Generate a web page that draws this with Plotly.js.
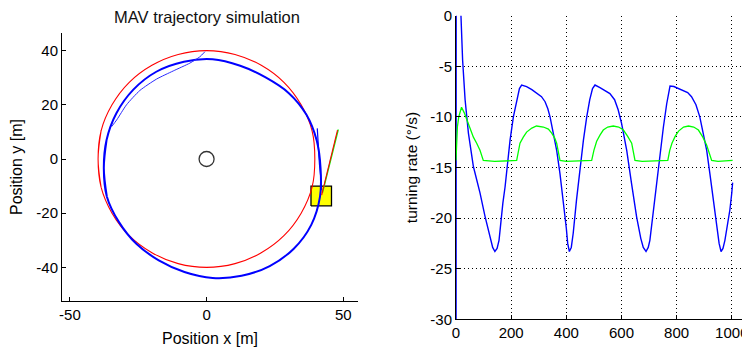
<!DOCTYPE html>
<html>
<head>
<meta charset="utf-8">
<script src="https://cdn.plot.ly/plotly-3.0.1.min.js"></script>
<style>html,body{margin:0;padding:0;overflow:hidden;background:#fff}#chart{width:742px;height:347px}</style>
</head>
<body>
<div id="chart"></div>
<script>
// ---- Left panel: trajectory (m) ----
var refPathX = [-38.6, -39.7, -38.6, -34.6, -28.3, -20, -10.4, 0, 10.4, 20, 28.3, 34.6, 38.6, 39.6, 38.6, 34.6, 28.3, 20, 10.4, 0, -10.4, -20, -28.3, -34.6, -38.6, -39.7, -38.6];
var refPathY = [10.4, 0, -10.4, -20, -28.3, -34.6, -38.6, -40, -38.6, -34.6, -28.3, -20, -10.4, 0, 10.4, 20, 28.3, 34.6, 38.6, 40, 38.6, 34.6, 28.3, 20, 10.4, 0, -10.4];

var mavLoopX = [-36.6, -37.6, -36.5, -32.1, -25.7, -17.5, -8.1, 2.2, 12.8, 23.1, 31.9, 38.3, 41.5, 41.7, 40.3, 36.5, 30.0, 21.6, 12.3, 2.2, -8.3, -18.4, -26.8, -33.0, -36.6, -37.6, -36.5];
var mavLoopY = [7.0, -3.4, -13.8, -23.2, -31.3, -37.4, -41.7, -43.9, -43.1, -39.5, -33.1, -24.3, -13.9, -3.4, 6.8, 16.4, 24.4, 30.1, 34.4, 36.8, 35.9, 32.2, 25.6, 16.9, 7.0, -3.4, -13.8];

var mavStartX = [-0.6, -2.5, -6.1, -12.2, -18.3, -24.4, -29.3, -32.9, -34.8];
var mavStartY = [39.6, 37.7, 35.4, 32.5, 29.5, 25.3, 20, 14.4, 11.9];

var mavEndX = [40.5, 40.8, 41.3, 41.8, 42.1];
var mavEndY = [11.3, 4, -2, -7, -11.4];

var mavBoxX = [38.2, 45.7, 45.7, 38.2, 38.2];
var mavBoxY = [-17.3, -17.3, -10, -10, -17.3];

var headingX = [42.1, 47.9];
var headingY = [-13.3, 10.7];
var windX = [42.4, 48.2];
var windY = [-12.5, 10.9];

var centerX = [0];
var centerY = [0];

var leftXTicks = [-50, 0, 50];
var leftXLabels = ['-50', '0', '50'];
var leftYTicks = [-40, -20, 0, 20, 40];
var leftYLabels = ['-40', '-20', '0', '20', '40'];

// ---- Right panel: turning rate (deg/s) vs time ----
var rateTime = [0, 1, 18, 24, 33, 45, 63, 87, 105, 123, 133, 141, 149, 156, 162, 170, 178, 187, 196, 208, 220, 230, 238, 256, 275, 292, 310, 323, 333, 341, 352, 365, 377, 389, 400, 405, 411, 418, 425, 437, 450, 462, 474, 485, 495, 504, 522, 540, 558, 575, 588, 600, 610, 619, 636, 655, 670, 679, 689, 697, 703, 715, 727, 740, 752, 764, 776, 790, 818, 840, 854, 870, 884, 897, 909, 921, 933, 946, 954, 961, 968, 975, 985, 993, 1000, 1003];
var rateActual = [-60, 40, 0, -4.4, -8.3, -11.6, -14.9, -17.5, -19.8, -21.8, -22.9, -23.3, -23, -22.2, -20.5, -18.5, -16.9, -14.5, -12.3, -10, -8.3, -7.2, -6.85, -7.0, -7.3, -7.6, -8.0, -8.5, -9.2, -10, -11.5, -13.3, -15.6, -18.2, -21, -22.5, -23.3, -22.9, -21.5, -18.2, -14.9, -12.3, -10, -8.3, -7.2, -6.85, -7.1, -7.4, -7.7, -8.3, -9.3, -10.6, -12, -13.3, -16.5, -19.9, -22, -22.9, -23.3, -22.9, -22.2, -19.5, -16.2, -13.5, -11, -8.7, -6.95, -7.0, -7.3, -7.6, -8, -8.8, -10, -11.6, -13.3, -15.7, -18.2, -20.8, -22.5, -23.3, -23, -22.2, -20.5, -19.2, -17.5, -16.5];

var cmdTime = [0, 2, 5, 10, 20, 30, 40, 50, 63, 75, 87, 99, 140, 220, 226, 232, 244, 256, 275, 292, 317, 335, 347, 358, 365, 377, 400, 492, 500, 510, 522, 534, 550, 570, 590, 607, 622, 637, 649, 675, 768, 775, 783, 795, 807, 825, 843, 862, 879, 895, 909, 918, 927, 950, 1003];
var rateCommand = [-14.3, -13, -11, -10, -9.05, -9.6, -10.3, -11, -12, -12.6, -13.3, -14.3, -14.4, -14.3, -13.5, -12.6, -12, -11.5, -11.1, -10.9, -11, -11.2, -11.6, -12.1, -12.6, -14.3, -14.4, -14.3, -13.3, -12.4, -11.8, -11.3, -11, -10.9, -11, -11.3, -11.9, -12.6, -14.3, -14.4, -14.3, -13.3, -12.6, -11.9, -11.4, -11, -10.9, -11, -11.3, -12, -12.8, -13.6, -14.3, -14.4, -14.3];

var rightXTicks = [0, 200, 400, 600, 800, 1000];
var rightXLabels = ['0', '200', '400', '600', '800', '1000'];
var rightYTicks = [-30, -25, -20, -15, -10, -5, 0];
var rightYLabels = ['-30', '-25', '-20', '-15', '-10', '-5', '0'];

var W = 742, H = 347;
function dx(a, b) { return [a / W, b / W]; }
function dy(top, bottom) { return [1 - bottom / H, 1 - top / H]; }

var traces = [
  {x: mavBoxX, y: mavBoxY, xaxis: 'x', yaxis: 'y', mode: 'lines', fill: 'toself', fillcolor: '#ffff00', line: {color: '#000', width: 1.3}, hoverinfo: 'skip'},
  {x: refPathX, y: refPathY, xaxis: 'x', yaxis: 'y', mode: 'lines', line: {color: '#ff0000', width: 1.1, shape: 'spline', smoothing: 1}},
  {x: mavLoopX, y: mavLoopY, xaxis: 'x', yaxis: 'y', mode: 'lines', line: {color: '#0000ff', width: 2, shape: 'spline', smoothing: 1}},
  {x: mavStartX, y: mavStartY, xaxis: 'x', yaxis: 'y', mode: 'lines', line: {color: '#2a2aff', width: 1, shape: 'spline', smoothing: 0.6}},
  {x: mavEndX, y: mavEndY, xaxis: 'x', yaxis: 'y', mode: 'lines', line: {color: '#0000ff', width: 1.2}},
  {x: windX, y: windY, xaxis: 'x', yaxis: 'y', mode: 'lines', line: {color: '#00ff00', width: 1.3}},
  {x: headingX, y: headingY, xaxis: 'x', yaxis: 'y', mode: 'lines', line: {color: '#ff0000', width: 1.1}},
  {x: centerX, y: centerY, xaxis: 'x', yaxis: 'y', mode: 'markers', marker: {symbol: 'circle-open', size: 15, color: '#333', line: {color: '#333', width: 1.3}}},
  {x: rateTime, y: rateActual, xaxis: 'x2', yaxis: 'y2', mode: 'lines', line: {color: '#0000ff', width: 1.4}},
  {x: cmdTime, y: rateCommand, xaxis: 'x2', yaxis: 'y2', mode: 'lines', line: {color: '#00ff00', width: 1.3}}
];

var fontFam = 'Liberation Sans, Arial, Helvetica, sans-serif';
var baseAxis = {showline: true, linecolor: '#000', linewidth: 1, ticks: 'inside', ticklen: 4, tickcolor: '#000', tickmode: 'array', zeroline: false, showgrid: false, mirror: false, ticklabeloverflow: 'allow', tickfont: {family: fontFam, size: 15, color: '#000'}, fixedrange: true};

var layout = {
  width: W, height: H,
  margin: {l: 0, r: 0, t: 0, b: 0},
  paper_bgcolor: '#fff', plot_bgcolor: 'rgba(0,0,0,0)',
  showlegend: false,
  font: {family: fontFam, color: '#000'},
  title: {text: 'MAV trajectory simulation', font: {family: fontFam, size: 16.5, color: '#111'}, x: 207 / W, xanchor: 'center', y: 1 - 17 / H, yanchor: 'middle'},
  xaxis: Object.assign({}, baseAxis, {domain: dx(62, 358), range: [-52.9, 55.4], tickvals: leftXTicks, ticktext: leftXLabels, anchor: 'y',
    title: {text: 'Position x [m]', font: {family: fontFam, size: 16, color: '#000'}, standoff: 10}}),
  yaxis: Object.assign({}, baseAxis, {domain: dy(33, 301), range: [-52.4, 46.5], tickvals: leftYTicks, ticktext: leftYLabels, anchor: 'x',
    title: {text: 'Position y [m]', font: {family: fontFam, size: 16, color: '#000'}, standoff: 9}}),
  xaxis2: Object.assign({}, baseAxis, {domain: dx(456, 742), range: [0, 1037], tickvals: rightXTicks, ticktext: rightXLabels, anchor: 'y2',
    showgrid: true, gridcolor: '#000', griddash: '1px,3px', gridwidth: 1}),
  yaxis2: Object.assign({}, baseAxis, {domain: dy(15.7, 319.3), range: [-30, 0], tickvals: rightYTicks, ticktext: rightYLabels, anchor: 'x2',
    showgrid: true, gridcolor: '#000', griddash: '1px,3px', gridwidth: 1,
    title: {text: 'turning rate (°/s)', font: {family: fontFam, size: 15.5, color: '#000'}, standoff: 8}})
};

Plotly.newPlot('chart', traces, layout, {staticPlot: true, displayModeBar: false});
</script>
</body>
</html>
